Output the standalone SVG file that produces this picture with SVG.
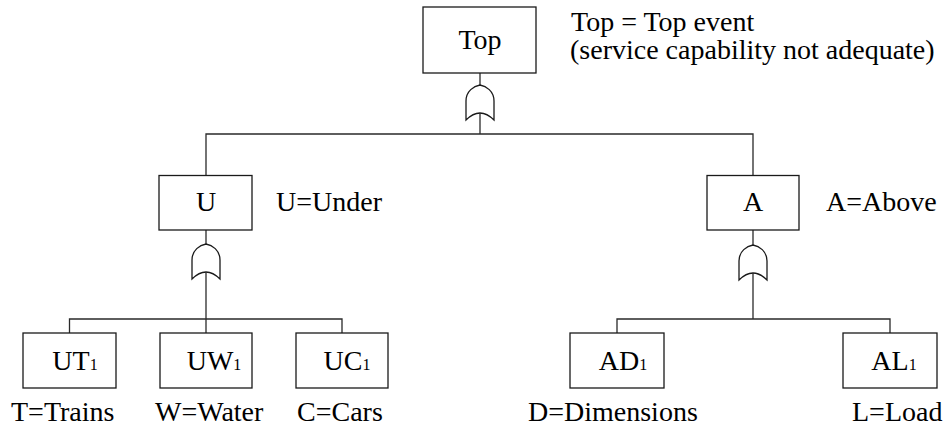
<svg xmlns="http://www.w3.org/2000/svg" width="945" height="429" viewBox="0 0 945 429">
  <style>
    .box { fill: #fff; stroke: #1a1a1a; stroke-width: 1.3; }
    .wire { fill: none; stroke: #2a2a2a; stroke-width: 1.3; }
    .gate { fill: #fff; stroke: #1a1a1a; stroke-width: 1.3; }
  </style>
  <defs>
    <!-- OR gate, origin at apex -->
    <path id="orGate" class="gate" d="M-14,35 L-14,16 C-14,6 -6,1 0,0 C6,1 14,6 14,16 L14,35 Q0,21 -14,35 Z"/>
  </defs>

  <g id="connectors">
    <!-- top level -->
    <line class="wire" x1="480" y1="73" x2="480" y2="85"/>
    <line class="wire" x1="480" y1="113" x2="480" y2="134"/>
    <polyline class="wire" points="206,175.5 206,134 753,134 753,175.5"/>
    <!-- U branch -->
    <line class="wire" x1="206" y1="230" x2="206" y2="244"/>
    <line class="wire" x1="206" y1="272" x2="206" y2="333"/>
    <polyline class="wire" points="69.5,333 69.5,319 342,319 342,333"/>
    <!-- A branch -->
    <line class="wire" x1="753" y1="230" x2="753" y2="245"/>
    <line class="wire" x1="753" y1="273" x2="753" y2="319"/>
    <polyline class="wire" points="617,333 617,319 890,319 890,333"/>
  </g>

  <g id="gates">
    <use href="#orGate" x="480" y="85"/>
    <use href="#orGate" x="206" y="244"/>
    <use href="#orGate" x="753" y="245"/>
  </g>

  <g font-family="'Liberation Serif', 'DejaVu Serif', serif" font-size="28" fill="#000">
    <g id="node-top">
      <rect class="box" x="423" y="7" width="113" height="66"/>
      <text text-anchor="middle" x="480" y="49">Top</text>
    </g>
    <g id="note-top">
      <text x="571" y="31">Top = Top event</text>
      <text x="570" y="59">(service capability not adequate)</text>
    </g>

    <g id="node-u">
      <rect class="box" x="159" y="175.5" width="93" height="54.5"/>
      <text text-anchor="middle" x="206" y="211">U</text>
      <text x="276" y="211">U=Under</text>
    </g>
    <g id="node-a">
      <rect class="box" x="707" y="175.5" width="92" height="54.5"/>
      <text text-anchor="middle" x="753" y="211">A</text>
      <text x="826" y="211">A=Above</text>
    </g>

    <g id="node-ut1">
      <rect class="box" x="23" y="333" width="93" height="55"/>
      <text text-anchor="middle" x="75" y="370">UT<tspan font-size="16">1</tspan></text>
      <text x="11" y="421">T=Trains</text>
    </g>
    <g id="node-uw1">
      <rect class="box" x="160" y="333" width="92" height="55"/>
      <text text-anchor="middle" x="214" y="370">UW<tspan font-size="16">1</tspan></text>
      <text x="155" y="421">W=Water</text>
    </g>
    <g id="node-uc1">
      <rect class="box" x="296" y="333" width="92" height="55"/>
      <text text-anchor="middle" x="347" y="370">UC<tspan font-size="16">1</tspan></text>
      <text x="297" y="421">C=Cars</text>
    </g>
    <g id="node-ad1">
      <rect class="box" x="570" y="333" width="94" height="55"/>
      <text text-anchor="middle" x="623" y="370">AD<tspan font-size="16">1</tspan></text>
      <text x="528" y="421">D=Dimensions</text>
    </g>
    <g id="node-al1">
      <rect class="box" x="843" y="333" width="94" height="55"/>
      <text text-anchor="middle" x="894" y="370">AL<tspan font-size="16">1</tspan></text>
      <text x="852" y="421">L=Load</text>
    </g>
  </g>
</svg>
